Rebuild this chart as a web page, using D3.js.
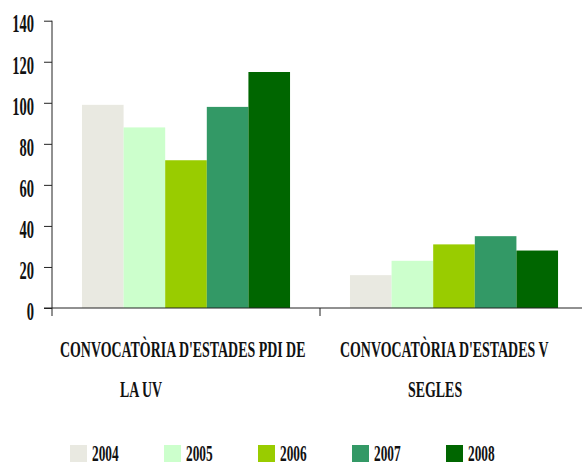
<!DOCTYPE html>
<html>
<head>
<meta charset="utf-8">
<script src="https://cdn.jsdelivr.net/npm/d3@7"></script>
<style>
  html, body { margin: 0; padding: 0; background: #fff; }
  svg { display: block; }
</style>
</head>
<body>
<svg id="chart" width="582" height="466"></svg>
<script>
const categories = ["CONVOCATÒRIA D'ESTADES PDI DE LA UV", "CONVOCATÒRIA D'ESTADES V SEGLES"];
const categoryLines = [["CONVOCATÒRIA D'ESTADES PDI DE", "LA UV"], ["CONVOCATÒRIA D'ESTADES V", "SEGLES"]];
const years = ["2004", "2005", "2006", "2007", "2008"];
const values2004 = [99, 16];
const values2005 = [88, 23];
const values2006 = [72, 31];
const values2007 = [98, 35];
const values2008 = [115, 28];
const yTicks = [0, 20, 40, 60, 80, 100, 120, 140];
const colors = ["#E9E9E1", "#CCFFCC", "#99CC00", "#339966", "#006600"];

(function () {
const series = [values2004, values2005, values2006, values2007, values2008];
const SX = 0.58; // horizontal condensing of the serif font
const FS = 25;
const FONT = "'Liberation Serif', 'DejaVu Serif', serif";

const svg = d3.select("#chart");
const pl = 52, pr = 588, pt = 20.7, pb = 308;

const x0 = d3.scaleBand().domain(categories).range([pl, pr]).paddingInner(0).paddingOuter(0);
const x1 = d3.scaleBand().domain(years).range([0, x0.bandwidth()]).paddingInner(0).paddingOuter(0.72);
const y = d3.scaleLinear().domain([0, 140]).range([pb, pt]);
const color = d3.scaleOrdinal().domain(years).range(colors);

function styleText(sel, size) {
  sel.style("font-family", FONT).style("font-size", size + "px")
     .style("font-weight", "bold").style("fill", "#111");
}

// bars
const groups = svg.selectAll("g.cat").data(categories).join("g")
  .attr("class", "cat")
  .attr("transform", d => `translate(${x0(d)},0)`);
groups.selectAll("rect").data((d, ci) => years.map((yr, si) => ({ yr, v: series[si][ci] })))
  .join("rect")
  .attr("x", d => x1(d.yr))
  .attr("width", x1.bandwidth())
  .attr("y", d => y(d.v))
  .attr("height", d => y(0) - y(d.v))
  .attr("fill", d => color(d.yr));

// y axis
const yAxis = d3.axisLeft(y).tickValues(yTicks).tickSize(8).tickPadding(10).tickSizeOuter(0);
const ya = svg.append("g").attr("transform", `translate(${pl},0)`).call(yAxis);
ya.select(".domain").remove();
ya.attr("font-family", null).attr("font-size", null);
ya.selectAll(".tick line").attr("stroke", "#222");
ya.selectAll(".tick text")
  .attr("fill", null)
  .attr("x", -18 / SX).attr("dy", "0.45em")
  .attr("transform", `scale(${SX},1)`)
  .call(styleText, FS);
svg.append("line").attr("x1", pl).attr("x2", pl).attr("y1", pt).attr("y2", pb + 8)
  .attr("stroke", "#222");

// x axis
svg.append("line").attr("x1", pl - 8).attr("x2", 582).attr("y1", pb).attr("y2", pb)
  .attr("stroke", "#222");
svg.selectAll("line.div").data(categories.slice(1)).join("line")
  .attr("class", "div")
  .attr("x1", d => x0(d)).attr("x2", d => x0(d))
  .attr("y1", pb).attr("y2", pb + 8).attr("stroke", "#222");

// category labels (positions as observed in reference)
const lineOffsets = [[8, 68], [20, 88]];
categories.forEach((c, ci) => {
  categoryLines[ci].forEach((ln, li) => {
    svg.append("text")
      .attr("transform", `translate(${x0(c) + lineOffsets[ci][li]},${357 + li * 40}) scale(${SX},1)`)
      .call(styleText, FS - 1)
      .text(ln);
  });
});

// legend
const lg = svg.selectAll("g.leg").data(years).join("g")
  .attr("class", "leg")
  .attr("transform", (d, i) => `translate(${70 + i * 94},445)`);
lg.append("rect").attr("width", 17).attr("height", 17).attr("fill", d => color(d));
lg.append("text")
  .attr("transform", `translate(22,16) scale(${SX},1)`)
  .call(styleText, FS - 2)
  .text(d => d);
})();
</script>
</body>
</html>
